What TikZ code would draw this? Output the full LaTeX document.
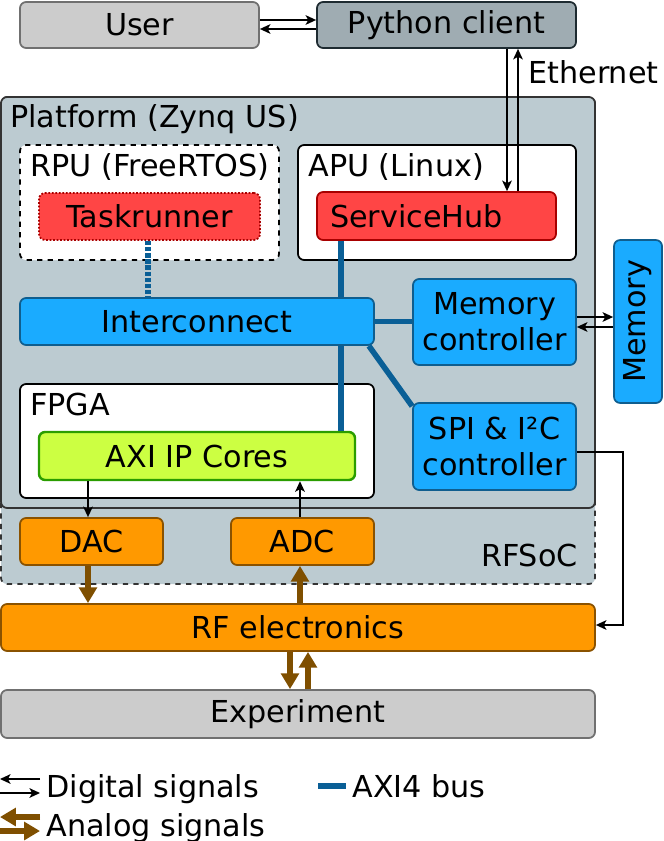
\documentclass[tikz,border=0pt]{standalone}
\usepackage{fontspec}
\setmainfont{DejaVu Sans}
\usetikzlibrary{arrows.meta}

\definecolor{usergray}{HTML}{CCCCCC}
\definecolor{edgegray}{HTML}{707070}
\definecolor{clientgray}{HTML}{9FACB2}
\definecolor{clientedge}{HTML}{1E2B31}
\definecolor{zynq}{HTML}{BCCBD1}
\definecolor{zynqedge}{HTML}{333333}
\definecolor{swred}{HTML}{FF4545}
\definecolor{swrededge}{HTML}{A80000}
\definecolor{hwblue}{HTML}{1AABFF}
\definecolor{hwblueedge}{HTML}{0F5E8F}
\definecolor{busblue}{HTML}{0A5F96}
\definecolor{ipgreen}{HTML}{CCFF42}
\definecolor{ipgreenedge}{HTML}{2A9D00}
\definecolor{rforange}{HTML}{FF9900}
\definecolor{rfedge}{HTML}{8A5200}
\definecolor{analog}{HTML}{7F4F00}

\tikzset{
  span/.style n args={4}{minimum width={(#3-#1)*0.02cm}, minimum height={(#4-#2)*0.02cm},
    at={({(#1+#3)/2},{(#2+#4)/2})}},
  block/.style={draw, rounded corners=3.5pt, line width=1pt, inner sep=0pt},
  gray block/.style={block, fill=usergray, draw=edgegray},
  client block/.style={block, fill=clientgray, draw=clientedge},
  group/.style={block, fill=white, draw=black},
  sw block/.style={block, fill=swred, draw=swrededge},
  hw block/.style={block, fill=hwblue, draw=hwblueedge},
  ip block/.style={block, fill=ipgreen, draw=ipgreenedge, line width=1.4pt},
  rf block/.style={block, fill=rforange, draw=rfedge},
  title/.style={inner sep=0pt, anchor=base west},
  digital/.style={-{Stealth[length=6pt,width=5.5pt,inset=1.5pt]}, line width=0.85pt},
  analog sig/.style={-{Triangle[length=9pt,width=10pt]}, line width=3.4pt, draw=analog, fill=analog},
  bus/.style={line width=3.2pt, draw=busblue},
}

\begin{document}
\begin{tikzpicture}[x=0.02cm, y=-0.02cm, font=\fontsize{17.2}{20.6}\selectfont]
  \useasboundingbox (0,0) rectangle (663,841);

  % top row
  \node[gray block, span={20}{2}{259}{48}] (user) {User};
  \node[client block, span={317}{2}{576}{48}] (client) {Python client};

  % RFSoC and platform
  \node[block, dashed, fill=zynq, draw=zynqedge, span={1}{97}{595}{584}] (rfsoc) {};
  \node[block, fill=zynq, draw=zynqedge, span={1}{97}{595}{508}] (platform) {};
  \node[title] (platformlabel) at (10,128) {Platform (Zynq US)};
  \node[anchor=base east, inner sep=0pt] (rfsoclabel) at (578,566) {RFSoC};

  % processors
  \node[group, dashed, span={20}{145}{279}{260}] (rpu) {};
  \node[title] (rpulabel) at (30,176) {RPU (FreeRTOS)};
  \node[sw block, densely dotted, span={39}{193}{260}{240}] (task) {Taskrunner};
  \node[group, span={298}{145}{576}{260}] (apu) {};
  \node[title] (apulabel) at (308,176) {APU (Linux)};
  \node[sw block, span={317}{192}{556}{240}, text width=4.26cm, align=left] (hub) {ServiceHub};

  % hardware blocks
  \node[hw block, span={20}{298}{374}{345}] (ic) {Interconnect};
  \node[hw block, span={413}{279}{576}{365}, align=center] (memctl) {Memory\\controller};
  \node[hw block, span={413}{403}{576}{490}, align=center] (spi) {SPI \& I²C\\controller};
  \node[hw block, rotate=90, minimum width=3.26cm, minimum height=0.96cm] (mem) at (638,321.5) {Memory};

  % FPGA
  \node[group, span={20}{384}{374}{498}] (fpga) {};
  \node[title] (fpgalabel) at (30,415) {FPGA};
  \node[ip block, span={39}{432}{355}{480}] (axi) {AXI IP Cores};

  % converters and analog side
  \node[rf block, span={20}{518}{163}{565}] (dac) {DAC};
  \node[rf block, span={231}{518}{374}{565}] (adc) {ADC};
  \node[rf block, span={1}{604}{595}{651}] (rf) {RF electronics};
  \node[gray block, span={1}{690}{595}{738}] (exp) {Experiment};

  % user <-> client
  \draw[digital] ([yshift=0.1cm]user.east) -- ([yshift=0.1cm]client.west);
  \draw[digital] ([yshift=-0.08cm]client.west) -- ([yshift=-0.08cm]user.east);

  % ethernet
  \coordinate (ethdown) at (507,0);
  \coordinate (ethup) at (518,0);
  \draw[digital] (client.south -| ethdown) -- (hub.north -| ethdown);
  \draw[digital] (hub.north -| ethup) -- (client.south -| ethup);
  \node[title] (ethlabel) at (528,84) {Ethernet};

  % AXI4 bus
  \coordinate (taskbus) at (148,0);
  \coordinate (hubbus) at (341,0);
  \draw[bus, dash pattern=on 2.5pt off 1pt] (task.south -| taskbus) -- (ic.north -| taskbus);
  \draw[bus] (hub.south -| hubbus) -- (ic.north -| hubbus);
  \draw[bus] (ic.south -| hubbus) -- (axi.north -| hubbus);
  \draw[bus] (ic.east) -- (ic.east -| memctl.west);
  \draw[bus] ([xshift=-0.12cm]ic.south east) -- ([yshift=-0.08cm]spi.north west);

  % memory
  \draw[digital] ([yshift=0.1cm]memctl.east) -- ([yshift=0.1cm]memctl.east -| mem.north);
  \draw[digital] ([yshift=-0.1cm]memctl.east -| mem.north) -- ([yshift=-0.1cm]memctl.east);

  % spi to rf
  \coordinate (spiturn) at (623,0);
  \draw[digital] ([yshift=-0.11cm]spi.east) -- ([yshift=-0.11cm]spi.east -| spiturn)
    -- ([yshift=0.05cm]rf.east -| spiturn) -- ([yshift=0.05cm]rf.east);

  % converters
  \coordinate (dacx) at (88,0);
  \coordinate (adcx) at (300,0);
  \draw[digital] (axi.south -| dacx) -- (dac.north -| dacx);
  \draw[digital] (adc.north -| adcx) -- (axi.south -| adcx);
  \draw[analog sig] (dac.south -| dacx) -- (rf.north -| dacx);
  \draw[analog sig] (rf.north -| adcx) -- (adc.south -| adcx);

  % rf <-> experiment
  \coordinate (expdown) at (290,0);
  \coordinate (expup) at (308,0);
  \draw[analog sig] (rf.south -| expdown) -- (exp.north -| expdown);
  \draw[analog sig] (exp.north -| expup) -- (rf.south -| expup);

  % legend
  \coordinate (dig1l) at (0,779);
  \coordinate (dig1r) at (40,779);
  \coordinate (dig2l) at (0,793);
  \coordinate (dig2r) at (40,793);
  \draw[digital] (dig1r) -- (dig1l);
  \draw[digital] (dig2l) -- (dig2r);
  \node[title] (digtext) at (46,797) {Digital signals};
  \coordinate (ana1l) at (0,817);
  \coordinate (ana1r) at (40,817);
  \coordinate (ana2l) at (0,831);
  \coordinate (ana2r) at (40,831);
  \draw[analog sig] (ana1r) -- (ana1l);
  \draw[analog sig] (ana2l) -- (ana2r);
  \node[title] (anatext) at (46,836) {Analog signals};
  \coordinate (busl) at (318,786);
  \coordinate (busr) at (346,786);
  \draw[bus] (busl) -- (busr);
  \node[title] (bustext) at (352,797) {AXI4 bus};
\end{tikzpicture}
\end{document}
